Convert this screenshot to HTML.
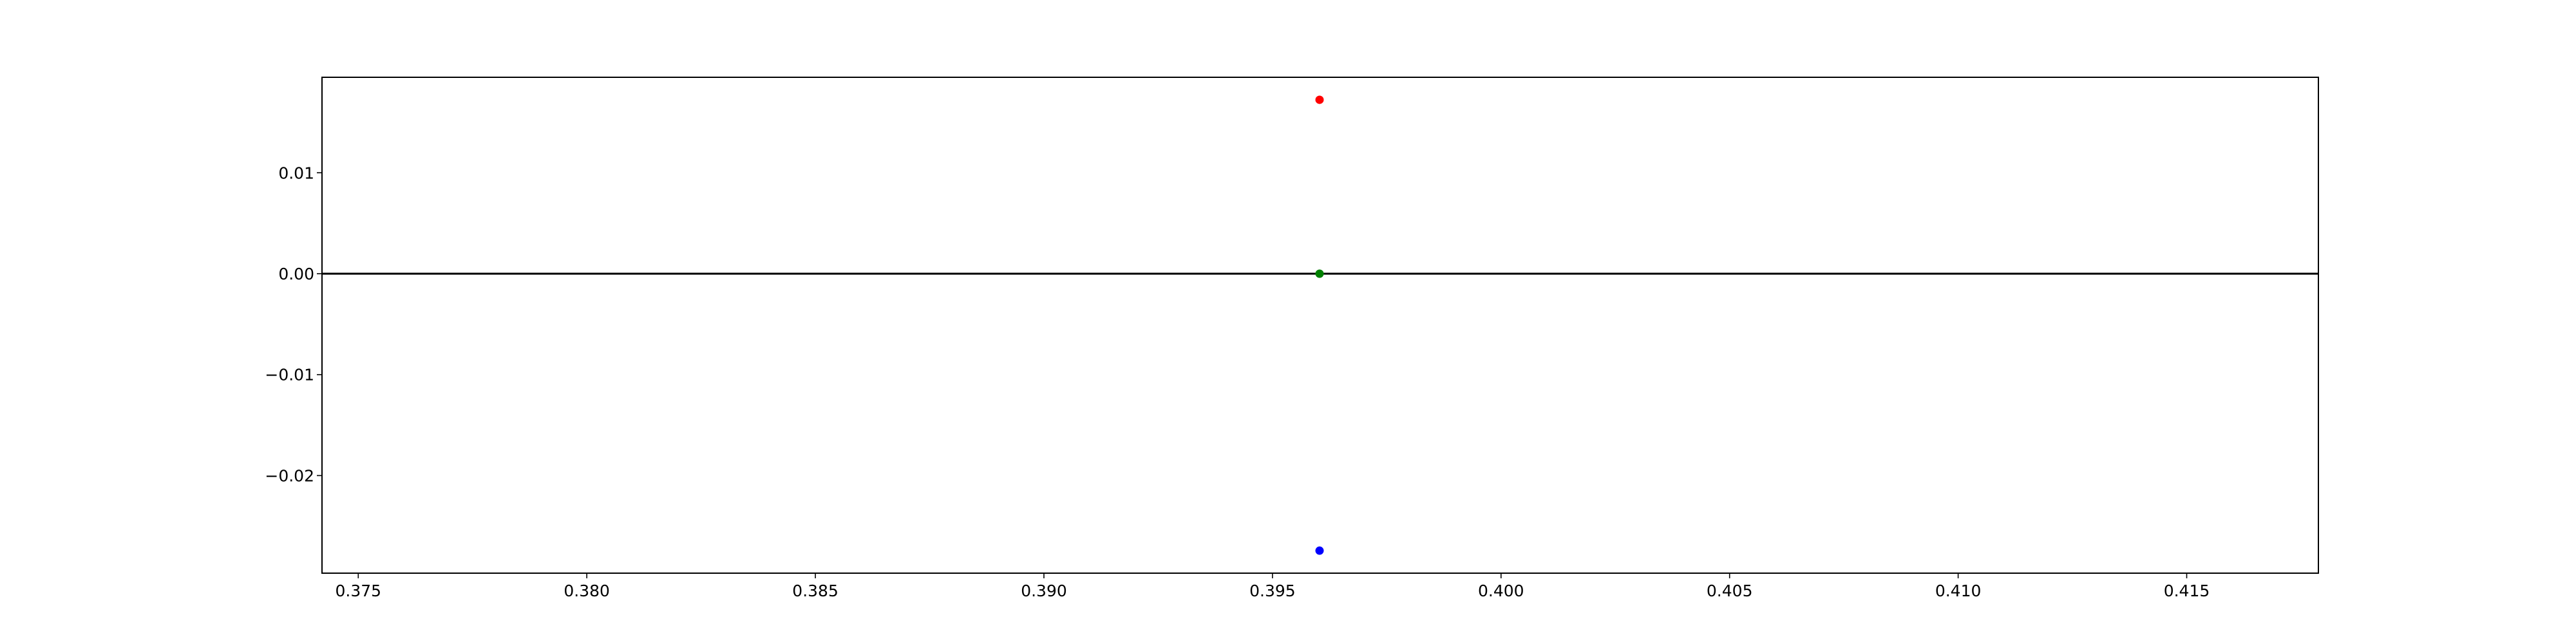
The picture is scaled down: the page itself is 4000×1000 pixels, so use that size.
<!DOCTYPE html>
<html><head><meta charset="utf-8"><style>
html,body{margin:0;padding:0;background:#fff;}
svg{display:block;}
text{font-family:"DejaVu Sans","Liberation Sans",sans-serif;font-size:25px;fill:#000;}
</style></head><body>
<svg id="chart" width="4000" height="1000" viewBox="0 0 4000 1000" xmlns="http://www.w3.org/2000/svg">
<rect x="0" y="0" width="4000" height="1000" fill="#fff"/>
<g id="plot"></g>
</svg>
<script>
const xTicks = [0.375, 0.380, 0.385, 0.390, 0.395, 0.400, 0.405, 0.410, 0.415];
const xTickLabels = ["0.375","0.380","0.385","0.390","0.395","0.400","0.405","0.410","0.415"];
const yTicks = [0.01, 0.00, -0.01, -0.02];
const yTickLabels = ["0.01","0.00","\u22120.01","\u22120.02"];
const pointX = [0.39603, 0.39603, 0.39603];
const pointY = [0.01723, 0.0, -0.02744];
const pointColors = ["#ff0000", "#008000", "#0000ff"];
const pointNames = ["point-red", "point-green", "point-blue"];
const hLineY = [0.0];

const L=500,R=3600,T=120,B=890;
const xMin=0.374207, xMax=0.417881;
const yMin=-0.02967, yMax=0.01946;
const sx=v=>L+(v-xMin)/(xMax-xMin)*(R-L);
const sy=v=>B-(v-yMin)/(yMax-yMin)*(B-T);
const NS="http://www.w3.org/2000/svg";
const g=document.getElementById('plot');
function mk(tag,attrs,parent){const e=document.createElementNS(NS,tag);for(const k in attrs)e.setAttribute(k,attrs[k]);(parent||g).appendChild(e);return e;}

hLineY.forEach(v=>{
  const l=mk('line',{x1:L,x2:R,y1:sy(v),y2:sy(v),stroke:'#000','stroke-width':3});
  
  
});

pointX.forEach((v,i)=>{
  const c=mk('ellipse',{cx:sx(v),cy:sy(pointY[i]),rx:6.5,ry:6.5,fill:pointColors[i]});
  
  
});

const frame=mk('rect',{x:L,y:T,width:R-L,height:B-T,fill:'none',stroke:'#000','stroke-width':2});



xTicks.forEach((v,i)=>{
  const x=sx(v);
  const t=mk('line',{x1:x,x2:x,y1:B,y2:B+8,stroke:'#000','stroke-width':1.6});
  
  
  const tx=mk('text',{x:x,y:B+36,'text-anchor':'middle'});
  tx.textContent=xTickLabels[i];
  
  
});
yTicks.forEach((v,i)=>{
  const y=sy(v);
  const t=mk('line',{x1:L-8,x2:L,y1:y,y2:y,stroke:'#000','stroke-width':1.6});
  
  
  const tx=mk('text',{x:L-12,y:y+9,'text-anchor':'end'});
  tx.textContent=yTickLabels[i];
  
  
});
</script>
</body></html>
